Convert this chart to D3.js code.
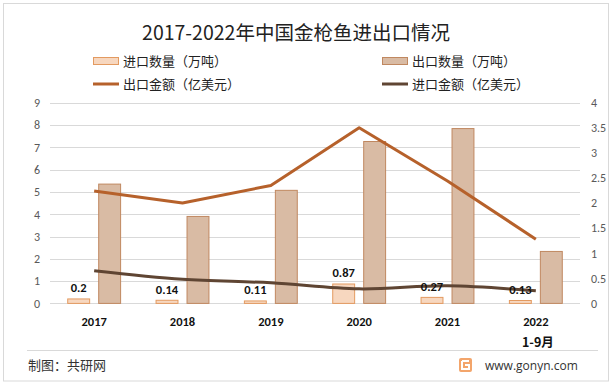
<!DOCTYPE html>
<html><head><meta charset="utf-8">
<script src="https://cdn.jsdelivr.net/npm/d3@7"></script>
<style>html,body{margin:0;padding:0;background:#fff;}svg{display:block;font-family:"Noto Sans CJK SC","Noto Sans",sans-serif;}</style>
</head><body><svg id="c" width="612" height="385"></svg>
<script>
const years = ["2017","2018","2019","2020","2021","2022"];
const importQty = [0.2, 0.14, 0.11, 0.87, 0.27, 0.13];
const exportQty = [5.35, 3.9, 5.07, 7.26, 7.84, 2.33];
const exportAmt = [2.24, 2.0, 2.35, 3.5, 2.44, 1.28];
const importAmt = [0.65, 0.48, 0.41, 0.29, 0.35, 0.25];
const leftTicks = [0,1,2,3,4,5,6,7,8,9];
const rightTicks = [0,0.5,1,1.5,2,2.5,3,3.5,4];
const seriesNames = ["进口数量（万吨）","出口数量（万吨）","出口金额（亿美元）","进口金额（亿美元）"];

const svg = d3.select("#c");
const L = 50, R = 580, T = 102.7, B = 303.4;
const x0 = d3.scaleBand().domain(years).range([L, R]);
const bw = x0.bandwidth();
const x1 = d3.scaleBand().domain(["imp","exp"]).range([bw*0.195, bw*0.805]).paddingInner(0.26);
const yL = d3.scaleLinear().domain([0,9]).range([B, T]);
const yR = d3.scaleLinear().domain([0,4]).range([B, T]);

const cImpFill="#F7D7BF", cImpStroke="#E39A60", cExpFill="#D9BBA4", cExpStroke="#C08860";
const cExpLine="#B6612B", cImpLine="#5F4533";

// outer frame
svg.append("rect").attr("x",3.5).attr("y",3.5).attr("width",605).attr("height",377.5)
  .attr("fill","none").attr("stroke","#D9D9D9");

// title
svg.append("text").attr("x",296).attr("y",40).attr("text-anchor","middle")
  .attr("font-size",19.5).attr("fill","#222").text("2017-2022年中国金枪鱼进出口情况");

// legend
const legend = [
  {x:93, y:61, type:"rect", fill:cImpFill, stroke:cImpStroke, name:seriesNames[0]},
  {x:382, y:61, type:"rect", fill:cExpFill, stroke:cExpStroke, name:seriesNames[1]},
  {x:93, y:84, type:"line", stroke:cExpLine, name:seriesNames[2]},
  {x:382, y:84, type:"line", stroke:cImpLine, name:seriesNames[3]}
];
legend.forEach(d=>{
  if(d.type==="rect"){
    svg.append("rect").attr("x",d.x+0.5).attr("y",d.y-3.5).attr("width",25).attr("height",7)
      .attr("fill",d.fill).attr("stroke",d.stroke);
  } else {
    svg.append("line").attr("x1",d.x).attr("x2",d.x+26).attr("y1",d.y).attr("y2",d.y)
      .attr("stroke",d.stroke).attr("stroke-width",3);
  }
  svg.append("text").attr("x",d.x+30).attr("y",d.y+4.5).attr("font-size",13).attr("fill","#222").text(d.name);
});

// gridlines
svg.append("g").selectAll("line").data(leftTicks).join("line")
  .attr("x1",L).attr("x2",R).attr("y1",d=>Math.round(yL(d))+0.5).attr("y2",d=>Math.round(yL(d))+0.5)
  .attr("stroke","#D9D9D9").attr("stroke-width",1);

// left axis
const gl = svg.append("g").attr("transform",`translate(${L-10},0)`)
  .call(d3.axisLeft(yL).tickValues(leftTicks).tickSize(0).tickPadding(0).tickFormat(d3.format("d")));
gl.select(".domain").remove();
gl.selectAll("text").attr("font-size",12).attr("fill","#595959").attr("font-family","Calibri,Carlito,'Liberation Sans',sans-serif");

// right axis
const gr = svg.append("g").attr("transform",`translate(${R+11},0)`)
  .call(d3.axisRight(yR).tickValues(rightTicks).tickSize(0).tickPadding(0).tickFormat(d=>String(d)));
gr.select(".domain").remove();
gr.selectAll("text").attr("font-size",12).attr("fill","#595959").attr("font-family","Calibri,Carlito,'Liberation Sans',sans-serif");

// x axis labels
const gx = svg.append("g").attr("transform",`translate(0,${B+14})`)
  .call(d3.axisBottom(x0).tickSize(0).tickPadding(0));
gx.select(".domain").remove();
gx.selectAll("text").attr("font-size",12.5).attr("font-weight","bold").attr("fill","#111")
  .attr("font-family","Calibri,Carlito,'Liberation Sans',sans-serif");
svg.append("text").attr("x",x0("2022")+bw/2+2).attr("y",B+43.5).attr("text-anchor","middle")
  .attr("font-size",12.5).attr("font-weight","bold").attr("fill","#111").text("1-9月");

// bars
const groups = svg.append("g").selectAll("g").data(years).join("g")
  .attr("transform",d=>`translate(${x0(d)},0)`);
groups.append("rect").attr("x",x1("imp")+0.5).attr("width",x1.bandwidth()-1)
  .attr("y",(d,i)=>yL(importQty[i])).attr("height",(d,i)=>B-yL(importQty[i]))
  .attr("fill",cImpFill).attr("stroke",cImpStroke).attr("stroke-width",1);
groups.append("rect").attr("x",x1("exp")+0.5).attr("width",x1.bandwidth()-1)
  .attr("y",(d,i)=>yL(exportQty[i])).attr("height",(d,i)=>B-yL(exportQty[i]))
  .attr("fill",cExpFill).attr("stroke",cExpStroke).attr("stroke-width",1);

// lines
const cx = d=>x0(d)+bw/2;
const lineExp = d3.line().x((d,i)=>cx(years[i])).y(d=>yR(d));
const lineImp = d3.line().x((d,i)=>cx(years[i])).y(d=>yR(d)).curve(d3.curveCatmullRom.alpha(0.5));
svg.append("path").attr("d",lineExp(exportAmt)).attr("fill","none").attr("stroke",cExpLine).attr("stroke-width",3).attr("stroke-linejoin","round");
svg.append("path").attr("d",lineImp(importAmt)).attr("fill","none").attr("stroke",cImpLine).attr("stroke-width",3).attr("stroke-linejoin","round");

// data labels
svg.append("g").selectAll("text").data(years).join("text")
  .attr("x",d=>x0(d)+x1("imp")+x1.bandwidth()/2)
  .attr("y",(d,i)=>yL(importQty[i])-6.5).attr("text-anchor","middle")
  .attr("font-size",12.5).attr("font-weight","bold").attr("fill","#111")
  .attr("font-family","Calibri,Carlito,'Liberation Sans',sans-serif")
  .text((d,i)=>String(importQty[i]));

// footer
svg.append("line").attr("x1",27).attr("x2",598).attr("y1",350.5).attr("y2",350.5).attr("stroke","#D9D9D9");
svg.append("text").attr("x",28).attr("y",370).attr("font-size",13).attr("fill","#333").text("制图：共研网");
const logo = svg.append("g").attr("transform","translate(459,358)");
logo.append("rect").attr("width",13).attr("height",14).attr("rx",2).attr("fill","#F3A56B");
logo.append("path").attr("d","M3,3 H10 M3,3 V11 H10 V7 H6").attr("fill","none").attr("stroke","#fff").attr("stroke-width",2);
svg.append("text").attr("x",485).attr("y",369.5).attr("font-size",12).attr("fill","#333")
  .attr("font-family","'Open Sans','Noto Sans',sans-serif").text("www.gonyn.com");
</script></body></html>
